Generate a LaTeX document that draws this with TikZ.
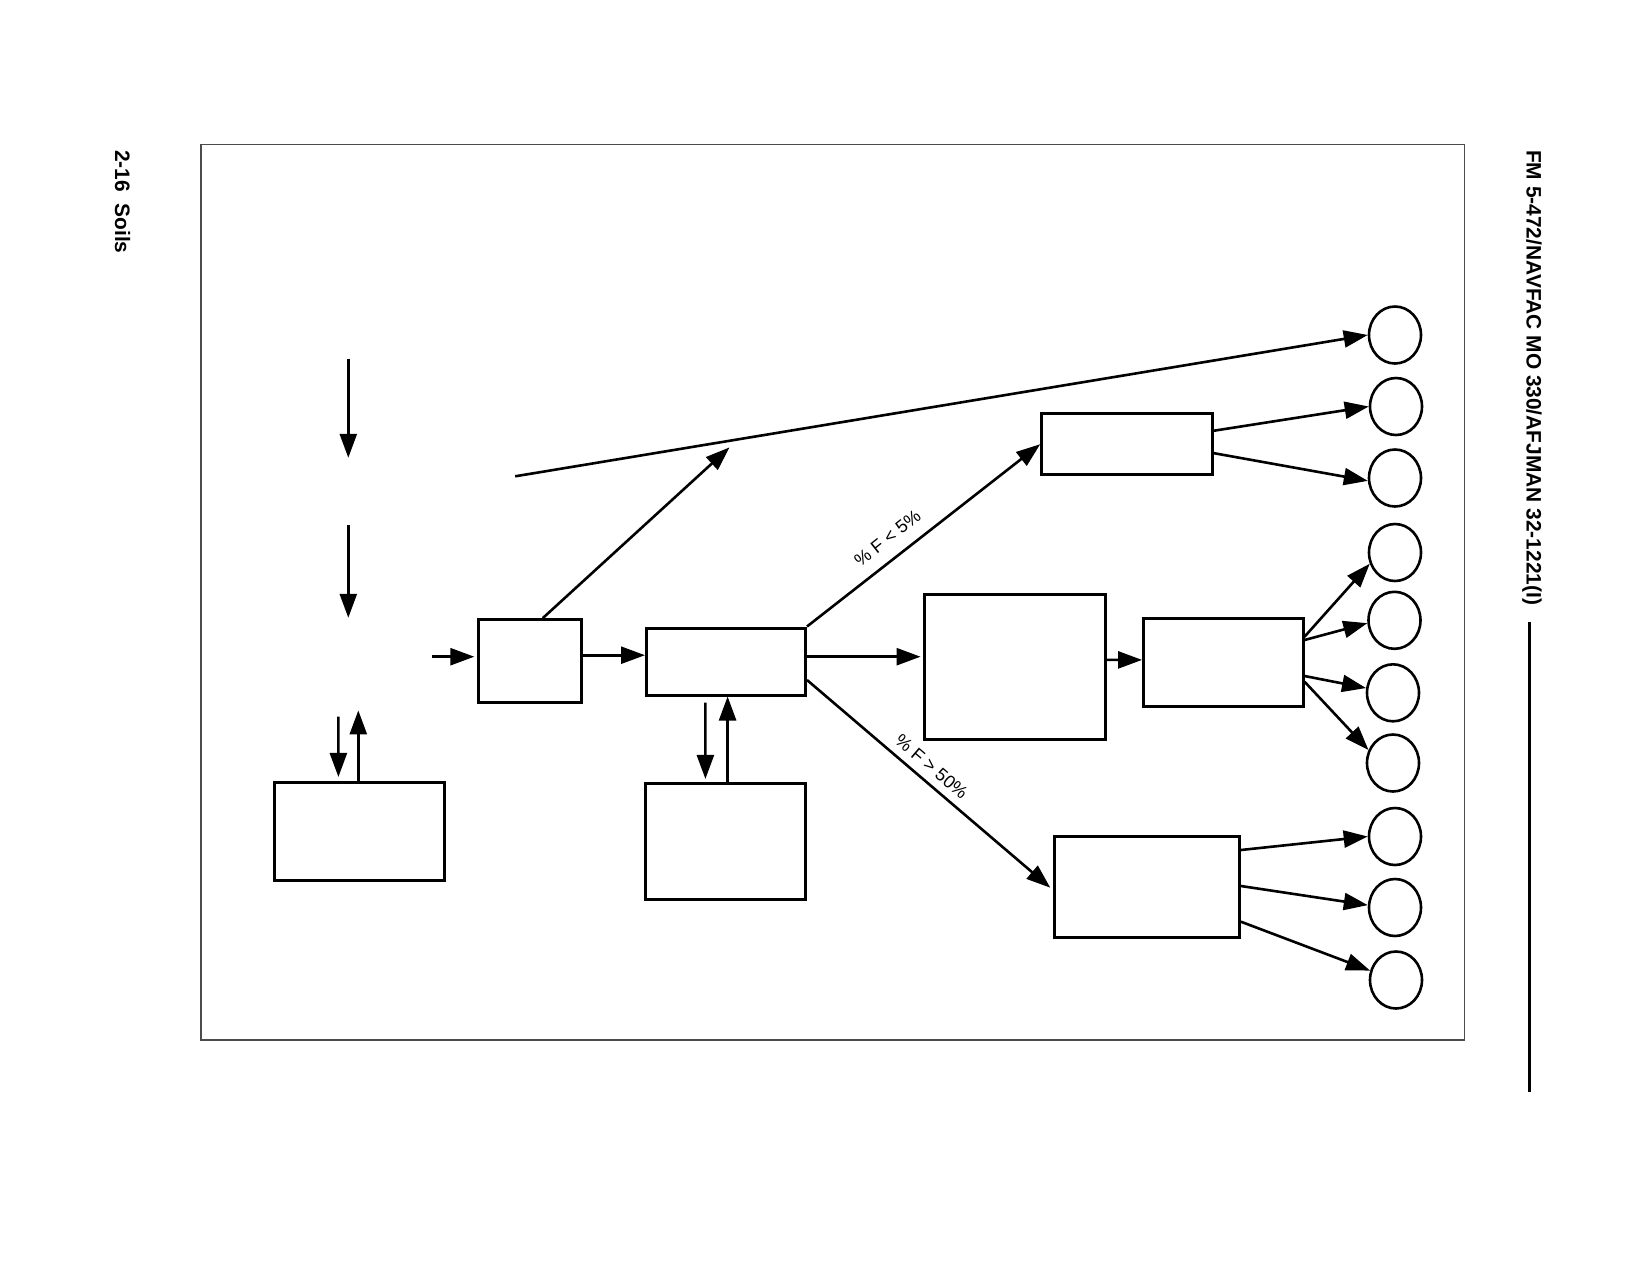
\documentclass[tikz,border=0pt]{standalone}
\usepackage{fontspec}
\setmainfont{Liberation Sans}
\usetikzlibrary{arrows.meta,shapes.geometric,calc}
\begin{document}
\begin{tikzpicture}[x=1pt,y=-1pt,
  box/.style={draw, rectangle, line width=3pt, inner sep=0pt},
  circ/.style={draw, ellipse, line width=2.6pt, minimum width=52pt, minimum height=57pt, inner sep=0pt},
  conn/.style={line width=2.6pt, -{Triangle[length=24pt,width=17pt]}},
  lbl/.style={font=\fontsize{18}{20}\selectfont, inner sep=0pt},
  hdr/.style={font=\fontsize{20.9}{24}\selectfont\bfseries, inner sep=0pt, rotate=-90, anchor=west},
  frame/.style={line width=1.3pt, black!70}]
\fill[white] (0,0) rectangle (1650,1272);
\useasboundingbox (0,0) rectangle (1650,1272);
% page furniture
\draw[frame] (201,144.5) rectangle (1464.5,1040);
\node[hdr] (hd) at (1532,150) {FM 5-472/NAVFAC MO 330/AFJMAN 32-1221(I)};
\coordinate (hl1) at (1529.5,622);
\coordinate (hl2) at (1529.5,1092);
\draw[line width=3pt] (hl1) -- (hl2);
\node[hdr] (pg) at (122.5,150) {2-16~~Soils};
% boxes
\node[box, minimum width=103pt, minimum height=82.6pt] (b1) at (530.3,660.9) {};
\node[box, minimum width=159pt, minimum height=67pt] (b2) at (726,661.5) {};
\node[box, minimum width=170pt, minimum height=97.5pt] (bl) at (359.8,831.7) {};
\node[box, minimum width=159.5pt, minimum height=116.5pt] (bb) at (725.3,841.7) {};
\node[box, minimum width=170.8pt, minimum height=61.5pt] (bc) at (1127.1,444.2) {};
\node[box, minimum width=181.5pt, minimum height=145.2pt] (bd) at (1014.8,666.9) {};
\node[box, minimum width=159.5pt, minimum height=87.5pt] (be) at (1223.3,662.3) {};
\node[box, minimum width=184.6pt, minimum height=101.1pt] (bf) at (1147.1,886.9) {};
% circles
\node[circ] (c1) at (1395,335) {};
\node[circ] (c2) at (1396,406.5) {};
\node[circ] (c3) at (1395,478) {};
\node[circ] (c4) at (1395,552.5) {};
\node[circ] (c5) at (1394.5,620.3) {};
\node[circ] (c6) at (1393,692.8) {};
\node[circ] (c7) at (1393,763) {};
\node[circ] (c8) at (1395,836.5) {};
\node[circ] (c9) at (1395,907.5) {};
\node[circ] (c10) at (1396,980) {};
% free ends
\coordinate (a1s) at (348.3,358.5);
\coordinate (a1e) at (348.3,457.8);
\coordinate (a2s) at (348.3,525.2);
\coordinate (a2e) at (348.3,617.8);
\coordinate (ins) at (431.8,656.7);
\coordinate (ltop) at (515.2,476.3);
\coordinate (dtip) at (729.5,447.4);
\coordinate (bld) at (338.4,716.7);
\coordinate (blu) at (358.3,710.4);
% connectors
\draw[conn] (a1s) -- (a1e);
\draw[conn] (a2s) -- (a2e);
\draw[conn] (ins) -- ($(b1.west)+(-3,-4.2)$);
\draw[conn] ($(b1.east)+(0,-5.7)$) -- ($(b2.west)+(0,-6.3)$);
\draw[conn] ($(b1.north)+(12.5,0)$) -- (dtip);
\draw[conn] (ltop) -- (c1.west);
\draw[conn] (bld) -- ($(bl.north)+(-21.4,-4.5)$);
\draw[conn] ($(bl.north)+(-1.5,0)$) -- (blu);
\draw[conn] ($(b2.south)+(-20.6,6)$) -- ($(bb.north)+(-19.9,-3)$);
\draw[conn] ($(bb.north)+(2.3,0)$) -- ($(b2.south)+(1.6,0)$);
\draw[conn] (b2.north east) -- (bc.west);
\draw[conn] ($(b2.east)+(0,-4.8)$) -- ($(bd.west)+(-2,-10.2)$);
\draw[conn] ($(b2.east)+(0,18.5)$) -- ($(bf.west)+(-3,0.8)$);
\draw[conn] ($(bd.east)+(0,-7)$) -- ($(be.west)+(0,-2.4)$);
\draw[conn] ($(bc.east)+(0,-13.5)$) -- (c2.west);
\draw[conn] ($(bc.east)+(0,9)$) -- (c3.186);
\draw[conn] ($(be.east)+(0,-25.6)$) -- (c4.204);
\draw[conn] ($(be.east)+(0,-22.3)$) -- (c5.186);
\draw[conn] ($(be.east)+(0,13.7)$) -- (c6.170);
\draw[conn] ($(be.east)+(0,19.4)$) -- (c7.152);
\draw[conn] ($(bf.east)+(0,-36.9)$) -- (c8.west);
\draw[conn] ($(bf.east)+(0,-0.9)$) -- (c9.175);
\draw[conn] ($(bf.east)+(0,34.8)$) -- (c10.160);
% labels
\node[lbl, rotate=38.2] (l1) at (887.5,538.3) {\% F < 5\%};
\node[lbl, rotate=-40.4] (l2) at (931.7,766.7) {\% F > 50\%};
\end{tikzpicture}
\end{document}
